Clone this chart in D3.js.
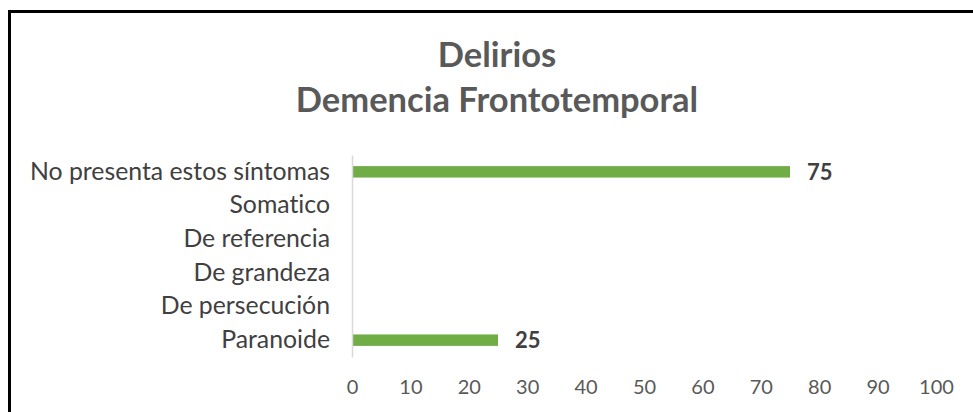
<!DOCTYPE html>
<html>
<head>
<meta charset="utf-8">
<script src="https://cdn.jsdelivr.net/npm/d3@7"></script>
<style>
  html, body { margin: 0; padding: 0; background: #fff; }
  svg { display: block; }
  text { font-variant-ligatures: none; }
</style>
</head>
<body>
<svg id="chart" width="973" height="412"></svg>
<script>
// Delusion types reported for frontotemporal dementia (percent)
const categories = [
  "No presenta estos síntomas",
  "Somatico",
  "De referencia",
  "De grandeza",
  "De persecución",
  "Paranoide"
];
const values = [75, 0, 0, 0, 0, 25];
const xTicks = [0, 10, 20, 30, 40, 50, 60, 70, 80, 90, 100];
const titleLines = ["Delirios", "Demencia Frontotemporal"];

const W = 973, H = 412;
const svg = d3.select("#chart");
const font = "Lato, 'Noto Sans', sans-serif";

// outer frame
svg.append("rect")
  .attr("x", 9.5).attr("y", 11.5)
  .attr("width", W).attr("height", H)
  .attr("fill", "none").attr("stroke", "#000").attr("stroke-width", 3);

const plot = { left: 352, right: 936, top: 155, bottom: 357 };

const x = d3.scaleLinear().domain([0, 100]).range([plot.left, plot.right]);
const y = d3.scaleBand().domain(categories).range([plot.top, plot.bottom])
  .paddingInner(0.66).paddingOuter(0.33);

// title
svg.append("g").selectAll("text").data(titleLines).join("text")
  .attr("x", 497).attr("y", (d, i) => 67 + i * 45)
  .attr("text-anchor", "middle")
  .attr("font-family", font).attr("font-weight", "bold")
  .attr("font-size", 34.5).attr("fill", "#595959")
  .text(d => d);

// bars
svg.append("g").selectAll("rect").data(categories).join("rect")
  .attr("x", x(0))
  .attr("y", (d) => y(d))
  .attr("width", (d, i) => x(values[i]) - x(0))
  .attr("height", y.bandwidth())
  .attr("fill", "#70AD47");

// category axis
const yAxis = svg.append("g")
  .attr("transform", `translate(${plot.left},0)`)
  .call(d3.axisLeft(y).tickSize(0).tickPadding(22));
yAxis.select(".domain").attr("stroke", "#d9d9d9").attr("stroke-width", 1.5);
yAxis.selectAll("text")
  .attr("font-family", font).attr("font-size", 24.8).attr("fill", "#404040");

// value axis (labels only)
const xAxis = svg.append("g")
  .attr("transform", `translate(0,${plot.bottom})`)
  .call(d3.axisBottom(x).tickValues(xTicks).tickSize(0).tickPadding(23));
xAxis.select(".domain").remove();
xAxis.selectAll("text")
  .attr("font-family", font).attr("font-size", 20).attr("fill", "#595959");

// value labels for non-zero bars
svg.append("g").selectAll("text")
  .data(categories.map((c, i) => ({ c, v: values[i] })).filter(d => d.v > 0))
  .join("text")
  .attr("x", d => x(d.v) + 17)
  .attr("y", d => y(d.c) + y.bandwidth() / 2)
  .attr("dy", "0.35em")
  .attr("font-family", font).attr("font-weight", "bold")
  .attr("font-size", 22).attr("fill", "#404040")
  .text(d => d.v);
</script>
</body>
</html>
